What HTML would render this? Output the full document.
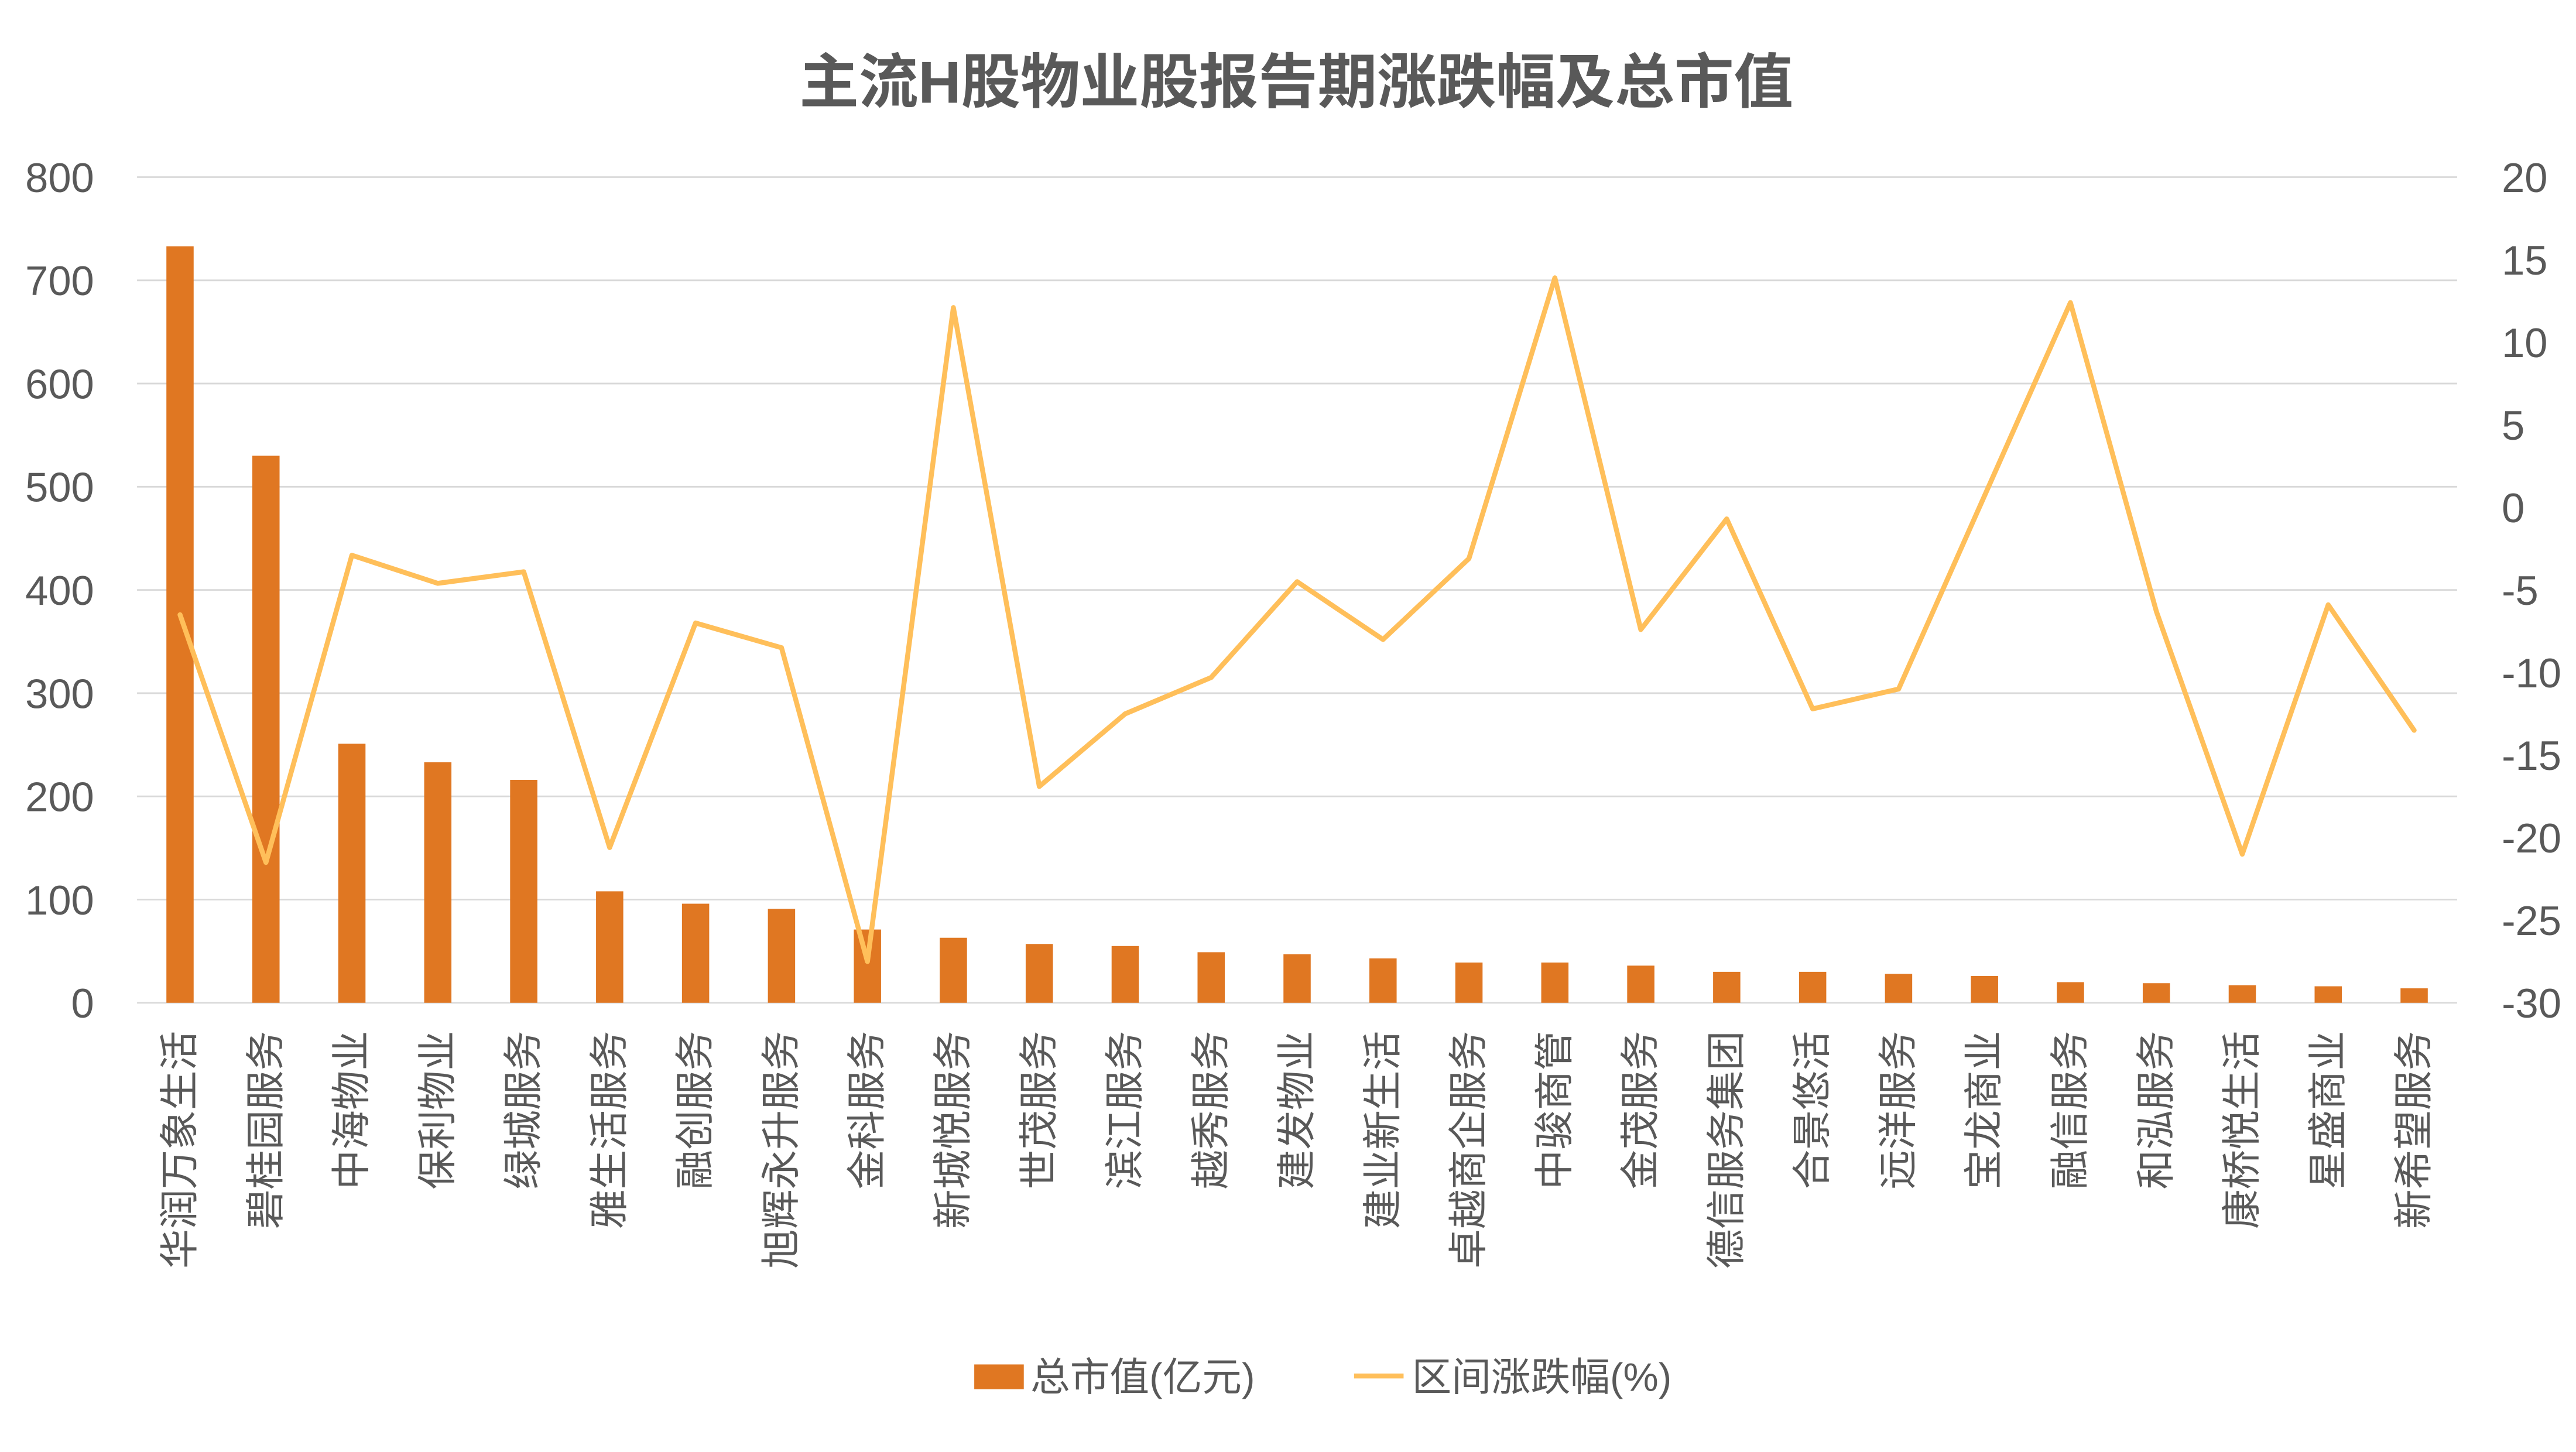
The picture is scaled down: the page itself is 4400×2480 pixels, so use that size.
<!DOCTYPE html>
<html><head><meta charset="utf-8"><style>
html,body{margin:0;padding:0;background:#fff}
svg text{font-family:"Liberation Sans","Noto Sans CJK SC",sans-serif;fill:#595959}
</style></head><body>
<svg id="chart" width="4400" height="2475" viewBox="0 0 1560 877" xmlns="http://www.w3.org/2000/svg">
<text x="785" y="62" text-anchor="middle" font-size="36" font-weight="bold">主流H股物业股报告期涨跌幅及总市值</text>
<g id="grid"></g><g id="bars"></g><g id="line"></g><g id="axes"></g><g id="xlabels"></g>
<g>
<rect x="590" y="826" width="30" height="15" fill="#e07722"/>
<text x="624" y="842" font-size="24">总市值(亿元)</text>
<line x1="820" y1="833" x2="850" y2="833" stroke="#ffbf5a" stroke-width="3"/>
<text x="855" y="842" font-size="24">区间涨跌幅(%)</text>
</g>
</svg>
<script>
const categories=["华润万象生活","碧桂园服务","中海物业","保利物业","绿城服务","雅生活服务","融创服务","旭辉永升服务","金科服务","新城悦服务","世茂服务","滨江服务","越秀服务","建发物业","建业新生活","卓越商企服务","中骏商管","金茂服务","德信服务集团","合景悠活","远洋服务","宝龙商业","融信服务","和泓服务","康桥悦生活","星盛商业","新希望服务"];
const marketCap=[733,530,251,233,216,108,96,91,71,63,57,55,49,47,43,39,39,36,30,30,28,26,20,19,17,16,14];
const changePct=[-6.5,-21.5,-2.9,-4.6,-3.9,-20.6,-7,-8.5,-27.5,12.1,-16.9,-12.5,-10.3,-4.5,-8,-3.1,13.9,-7.4,-0.7,-12.2,-11,0.7,12.4,-6.3,-21,-5.9,-13.5];
const leftTicks=[0,100,200,300,400,500,600,700,800];
const rightTicks=[-30,-25,-20,-15,-10,-5,0,5,10,15,20];
const NS="http://www.w3.org/2000/svg";
const X0=83,X1=1488,YT=107,YB=607;
const band=(X1-X0)/categories.length;
const xc=i=>X0+band*(i+0.5);
const yL=v=>YB-(v-0)/(800-0)*(YB-YT);
const yR=v=>YB-(v+30)/(50)*(YB-YT);
function mk(tag,attrs,parent){const e=document.createElementNS(NS,tag);for(const k in attrs)e.setAttribute(k,attrs[k]);document.getElementById(parent).appendChild(e);return e;}
leftTicks.forEach(t=>{
 const g=mk('line',{x1:X0,x2:X1,y1:yL(t),y2:yL(t),stroke:'#d9d9d9','stroke-width':1},'grid');
 
 
 const tx=mk('text',{x:57,y:yL(t)+9,'text-anchor':'end','font-size':25},'axes');
 tx.textContent=t;
 
 
});
rightTicks.forEach(t=>{
 const tx=mk('text',{x:1515,y:yR(t)+9,'text-anchor':'start','font-size':25},'axes');
 tx.textContent=t;
 
 
});
const bw=16.5;
marketCap.forEach((v,i)=>{
 const r=mk('rect',{x:xc(i)-bw/2,y:yL(v),width:bw,height:YB-yL(v),fill:'#e07722'},'bars');
 
 
});
const pts=changePct.map((v,i)=>xc(i)+','+yR(v)).join(' ');
const pl=mk('polyline',{points:pts,fill:'none',stroke:'#ffbf5a','stroke-width':3,'stroke-linejoin':'round','stroke-linecap':'round'},'line');


categories.forEach((c,i)=>{
 const t=mk('text',{transform:`translate(${xc(i)+8},624) rotate(-90)`,'text-anchor':'end','font-size':24},'xlabels');
 t.textContent=c;
 
 
});
</script>
</body></html>
